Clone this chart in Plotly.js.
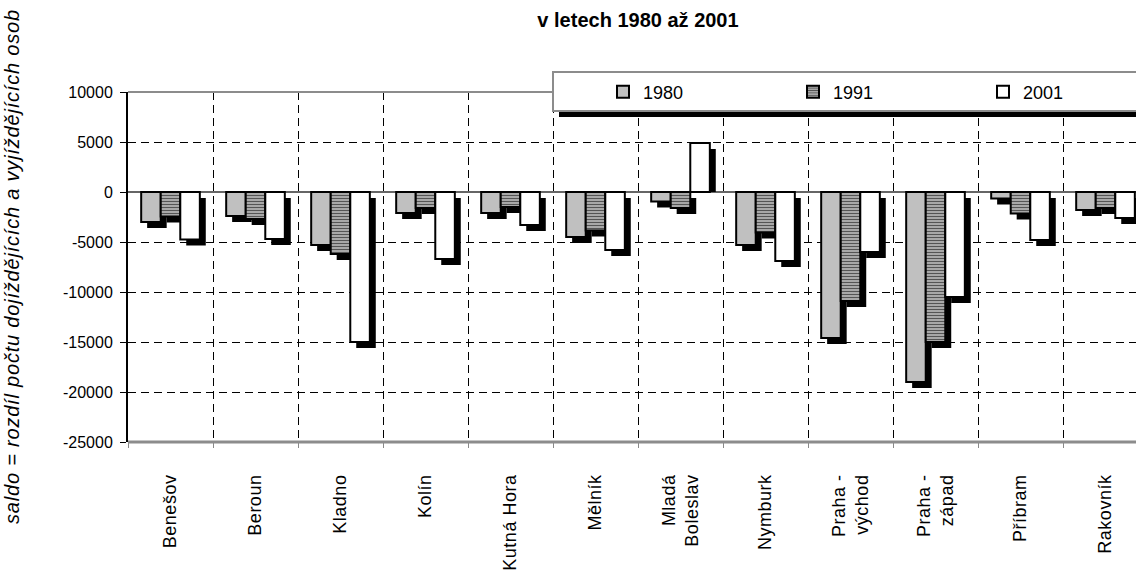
<!DOCTYPE html>
<html><head><meta charset="utf-8">
<script src="https://cdn.plot.ly/plotly-3.0.1.min.js"></script>
<style>html,body{margin:0;padding:0;overflow:hidden;background:#fff}#chart{width:1160px;height:572px}
.xtick text{letter-spacing:0.5px}
.annotation-text{letter-spacing:0.8px}
</style>
</head><body><div id="chart"></div>
<script>
const categories = ['Benešov','Beroun','Kladno','Kolín','Kutná Hora','Mělník','Mladá<br>Boleslav','Nymburk','Praha -<br>východ','Praha -<br>západ','Příbram','Rakovník'];
const years = ['1980','1991','2001'];
const values1980 = [-3000,-2400,-5300,-2100,-2100,-4500,-950,-5300,-14600,-19000,-650,-1800];
const values1991 = [-2450,-2700,-6200,-1600,-1500,-3850,-1600,-4050,-10900,-15000,-2150,-1600];
const values2001 = [-4750,-4700,-15000,-6700,-3300,-5800,4900,-6900,-6000,-10500,-4800,-2600];
const yTickValues = [10000,5000,0,-5000,-10000,-15000,-20000,-25000];
const yTickLabels = ['10000','5000','0','-5000','-10000','-15000','-20000','-25000'];
const yTitle = 'saldo = rozdíl počtu dojíždějících a vyjíždějících osob';
const chartTitle = 'v letech 1980 až 2001';

const idx = categories.map((_, i) => i);
const series = [values1980, values1991, values2001];
const barW = 0.23;
const offsets = [-0.345, -0.115, 0.115];
const shadowDx = 0.07;   // ~6 px
const shadowDy = 600;    // ~6 px in value units
const markers = [
  {color:'#c0c0c0', line:{color:'#000', width:2}},
  {color:'#a8a8a8', pattern:{shape:'-', fgcolor:'#555555', bgcolor:'#c4c4c4', size:3, solidity:0.5, fillmode:'replace'}, line:{color:'#000', width:2}},
  {color:'#ffffff', line:{color:'#000', width:2}}
];
const FONT = 'Liberation Sans, Arial, sans-serif';

const traces = [];
series.forEach((vals, k) => {
  traces.push({type:'bar', x: idx,
    y: vals.map(v => v < 0 ? v : v - shadowDy),
    base: vals.map(v => v < 0 ? -shadowDy : 0),
    offset: offsets[k] + shadowDx, width: barW,
    marker:{color:'#000', line:{width:0}}, showlegend:false, hoverinfo:'skip'});
});
series.forEach((vals, k) => {
  traces.push({type:'bar', name: years[k], x: idx, y: vals, offset: offsets[k], width: barW, marker: markers[k]});
});

const layout = {
  width: 1160, height: 572,
  margin: {l:128, r:12, t:92, b:130, autoexpand:false},
  paper_bgcolor:'#fff', plot_bgcolor:'#fff',
  barmode:'overlay', hovermode:false,
  font:{family: FONT, color:'#000'},
  title:{text:'<b>'+chartTitle+'</b>', font:{size:20, family:FONT, color:'#000'}, x:0.5, xref:'paper', y:1-20/572, yref:'container', yanchor:'middle'},
  xaxis:{range:[-0.5, 11.5], tickvals: idx, ticktext: categories, tickangle:-90, ticks:'', showgrid:false, zeroline:false, showline:false,
    tickfont:{size:18, family:FONT, color:'#000'}, ticklabelstandoff: 28, automargin:false,
    minor:{tick0:-0.5, dtick:1, showgrid:true, gridcolor:'#000', griddash:'8px,5px', gridwidth:1, ticks:'outside', ticklen:5, tickcolor:'#888'}},
  yaxis:{range:[-25000, 10000], tickvals: yTickValues, ticktext: yTickLabels, ticks:'outside', ticklen:6, tickcolor:'#000', tickwidth:1,
    showline:true, linecolor:'#000', linewidth:2, showgrid:true, gridcolor:'#000', griddash:'8px,5px', gridwidth:1, automargin:false,
    zeroline:true, zerolinecolor:'#666', zerolinewidth:1.5, tickfont:{size:16, family:FONT, color:'#000'}, ticklabelstandoff:4},
  legend:{orientation:'h', x:(603-128)/1020, xanchor:'left', y:1.0, yanchor:'middle', bgcolor:'rgba(0,0,0,0)', borderwidth:0,
    font:{size:18, family:FONT, color:'#000'}, entrywidth:145, traceorder:'normal'},
  shapes:[
    {type:'line', xref:'paper', yref:'paper', x0:0, x1:1, y0:1, y1:1, line:{color:'#8c8c8c', width:2}, layer:'above'},
    {type:'line', xref:'paper', yref:'paper', x0:0, x1:1, y0:0, y1:0, line:{color:'#8c8c8c', width:3}, layer:'above'},
    {type:'rect', xref:'paper', yref:'paper', x0:(559-128)/1020, x1:1.1, y0:(442-117)/350, y1:(442-78)/350, fillcolor:'#000', line:{width:0}, layer:'above'},
    {type:'rect', xref:'paper', yref:'paper', x0:(553-128)/1020, x1:1.1, y0:(442-111)/350, y1:(442-72)/350, fillcolor:'#fff', line:{color:'#8c8c8c', width:2}, layer:'above'}
  ],
  annotations:[
    {text: yTitle, xref:'paper', yref:'paper', x:0, y:0.5, xshift:-116, xanchor:'center', yanchor:'middle', textangle:-90, showarrow:false,
     font:{size:20, family:FONT, style:'italic', color:'#000'}}
  ]
};
Plotly.newPlot('chart', traces, layout, {staticPlot:true});
</script></body></html>
